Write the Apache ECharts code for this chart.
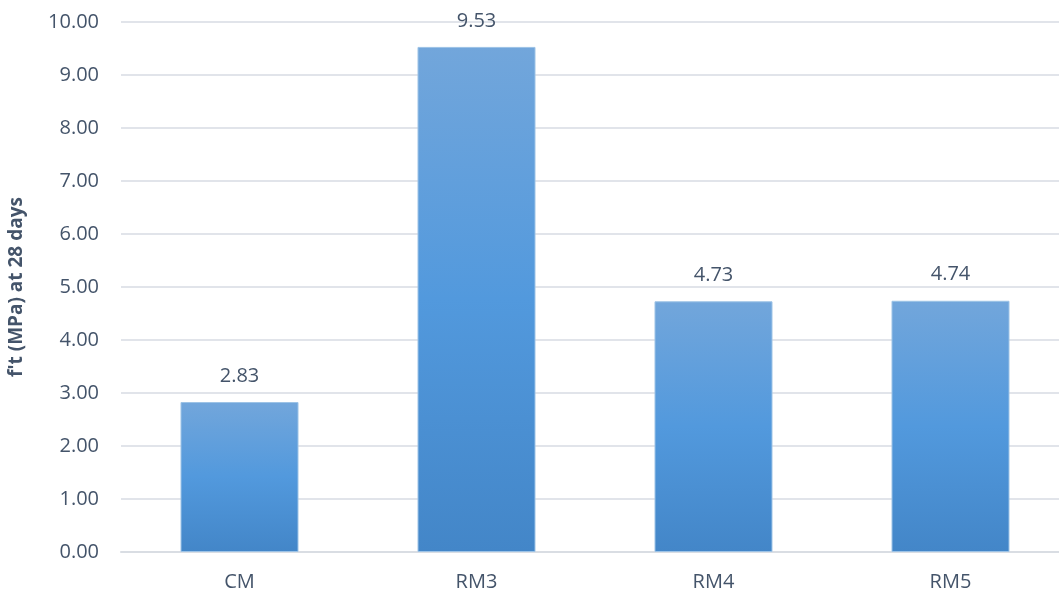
<!DOCTYPE html>
<html>
<head>
<meta charset="utf-8">
<script src="https://cdn.jsdelivr.net/npm/echarts@6/dist/echarts.min.js"></script>
<style>
  html, body { margin: 0; padding: 0; background: #fff; }
  #chart { width: 1059px; height: 596px; }
</style>
</head>
<body>
<div id="chart"></div>
<script>
// Mix designations and 28-day tensile strength values
const mixes = ['CM', 'RM3', 'RM4', 'RM5'];
const strength = [2.83, 9.53, 4.73, 4.74];
const axisTitle = "f't (MPa) at 28 days";

const textColor = '#44546A';
const fontFamily = '"Open Sans", "Noto Sans", sans-serif';

const barFill = new echarts.graphic.LinearGradient(0, 0, 0, 1, [
  { offset: 0, color: '#72A6DB' },
  { offset: 0.5, color: '#5299DD' },
  { offset: 1, color: '#4386C8' }
]);

const chart = echarts.init(document.getElementById('chart'), null, { renderer: 'canvas' });
chart.setOption({
  animation: false,
  // plot area runs slightly past the right edge of the canvas
  grid: { left: 121, top: 22, width: 948, bottom: 44, outerBoundsMode: 'none' },
  xAxis: {
    type: 'category',
    data: mixes,
    axisLine: { lineStyle: { color: '#D9DDE3', width: 2 } },
    axisTick: { show: false },
    axisLabel: { color: textColor, fontSize: 20, fontFamily: fontFamily, margin: 20 }
  },
  yAxis: {
    type: 'value',
    min: 0,
    max: 10,
    interval: 1,
    name: axisTitle,
    nameLocation: 'middle',
    nameGap: 95,
    nameTextStyle: { color: textColor, fontSize: 19, fontWeight: 'bold', fontFamily: fontFamily },
    axisLine: { show: false },
    axisTick: { show: false },
    axisLabel: {
      color: textColor, fontSize: 20, fontFamily: fontFamily, margin: 22,
      formatter: v => v.toFixed(2)
    },
    splitLine: { lineStyle: { color: '#E1E4EA', width: 2 } }
  },
  series: [{
    type: 'bar',
    data: strength,
    barWidth: 118,
    itemStyle: { color: barFill, borderColor: '#9DC3E6', borderWidth: 1 },
    label: {
      show: true,
      position: 'top',
      distance: 16,
      color: textColor,
      fontSize: 20,
      fontFamily: fontFamily,
      formatter: p => p.value.toFixed(2)
    }
  }]
});
</script>
</body>
</html>
